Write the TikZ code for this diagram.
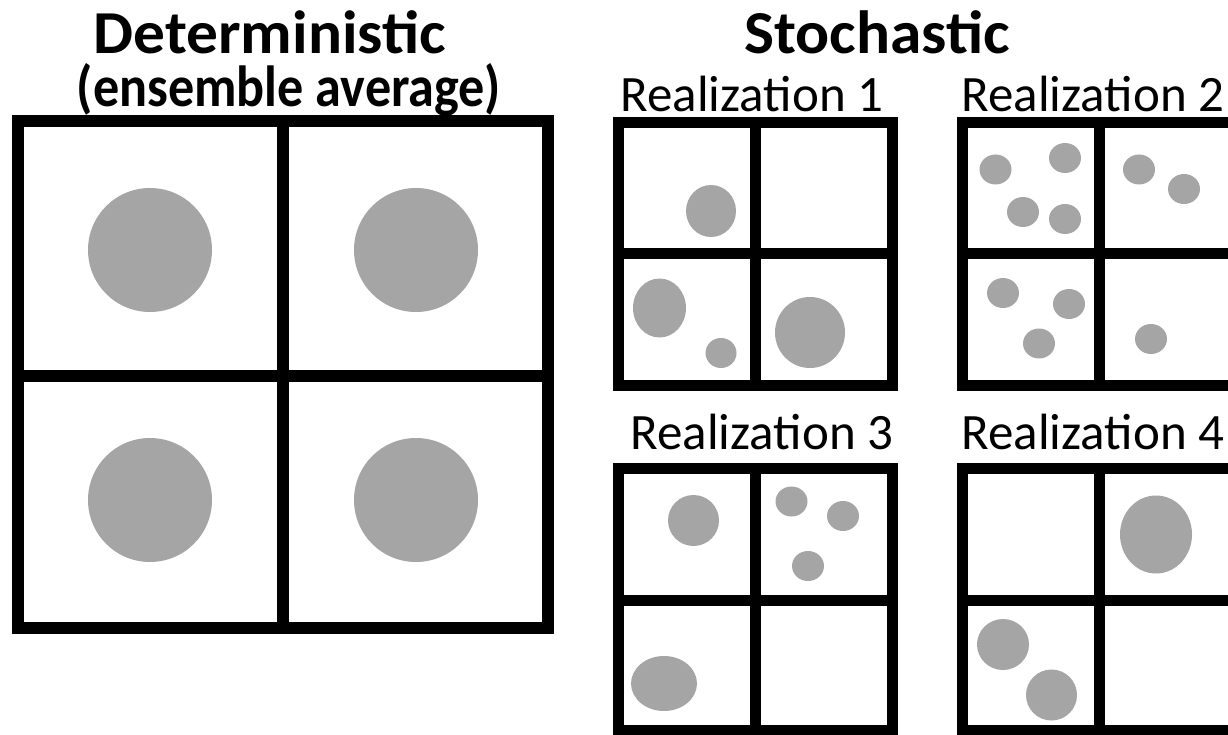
\documentclass[tikz,border=0pt]{standalone}
\usepackage{fontspec}
\setmainfont{Carlito}
\begin{document}
\begin{tikzpicture}[x=1pt,y=-1pt,
  bigframe/.style={line width=12pt, draw=black},
  smallframe/.style={line width=11pt, draw=black},
  blob/.style={fill=blobgray},
  title/.style={font=\fontsize{61}{61}\selectfont\bfseries, anchor=base, inner sep=0pt, xscale=1.04},
  subtitle/.style={font=\fontsize{58}{58}\selectfont\bfseries, anchor=base, inner sep=0pt, xscale=0.9},
  real/.style={font=\fontsize{51}{51}\selectfont, anchor=base, inner sep=0pt}]
\definecolor{blobgray}{HTML}{A5A5A5}
\useasboundingbox[fill=white] (0,0) rectangle (1228,735);
% titles
\node[title] (det) at (270,54) {Deterministic};
\node[subtitle] (ens) at (289,107) {(ensemble average)};
\node[title] (sto) at (877,54) {Stochastic};
\node[real] (r1) at (752,112) {Realization 1};
\node[real] (r2) at (1093,112) {Realization 2};
\node[real] (r3) at (762,449) {Realization 3};
\node[real] (r4) at (1093,449) {Realization 4};
% deterministic box
\foreach \cx/\cy in {150/250, 416/250, 150/500, 416/500}
  \fill[blob] (\cx,\cy) circle[radius=62pt];
\draw[bigframe] (18,121) rectangle (548,628);
\draw[bigframe] (283,121) -- (283,628);
\draw[bigframe] (18,376) -- (548,376);
% realization 1
\fill[blob] (711,211) ellipse[x radius=25pt, y radius=26pt];
\fill[blob] (659.5,308) ellipse[x radius=26.5pt, y radius=29.5pt];
\fill[blob] (721,353) ellipse[x radius=15.5pt, y radius=15pt];
\fill[blob] (810,332.5) ellipse[x radius=35pt, y radius=35.5pt];
\draw[smallframe] (618.5,122.5) rectangle (892.5,385.5);
\draw[smallframe] (755.5,122.5) -- (755.5,385.5);
\draw[smallframe] (618.5,254) -- (892.5,254);
% realization 2
\foreach \cx/\cy in {995.5/169.5, 1065/158, 1023/212, 1065/219, 1139/169.5, 1184/189, 1003/293, 1069/304, 1039/343.5, 1151/339}
  \fill[blob] (\cx,\cy) ellipse[x radius=16pt, y radius=15pt];
\draw[smallframe] (962.5,122.5) rectangle (1236.5,385.5);
\draw[smallframe] (1099,122.5) -- (1099,385.5);
\draw[smallframe] (962.5,254) -- (1236.5,254);
% realization 3
\fill[blob] (693.5,520.5) ellipse[x radius=25.5pt, y radius=25.5pt];
\foreach \cx/\cy in {791.5/501.5, 843/516, 808/566}
  \fill[blob] (\cx,\cy) ellipse[x radius=16pt, y radius=15pt];
\fill[blob] (664,683.5) ellipse[x radius=33pt, y radius=27.5pt];
\draw[smallframe] (618.5,468) rectangle (892.5,730.5);
\draw[smallframe] (755.5,468) -- (755.5,730.5);
\draw[smallframe] (618.5,600) -- (892.5,600);
% realization 4
\fill[blob] (1156,534.5) ellipse[x radius=36pt, y radius=39pt];
\fill[blob] (1003,644.5) ellipse[x radius=26pt, y radius=25.5pt];
\fill[blob] (1051.5,695) ellipse[x radius=25.5pt, y radius=25.5pt];
\draw[smallframe] (962.5,468) rectangle (1236.5,730.5);
\draw[smallframe] (1099,468) -- (1099,730.5);
\draw[smallframe] (962.5,600) -- (1236.5,600);
\end{tikzpicture}
\end{document}
